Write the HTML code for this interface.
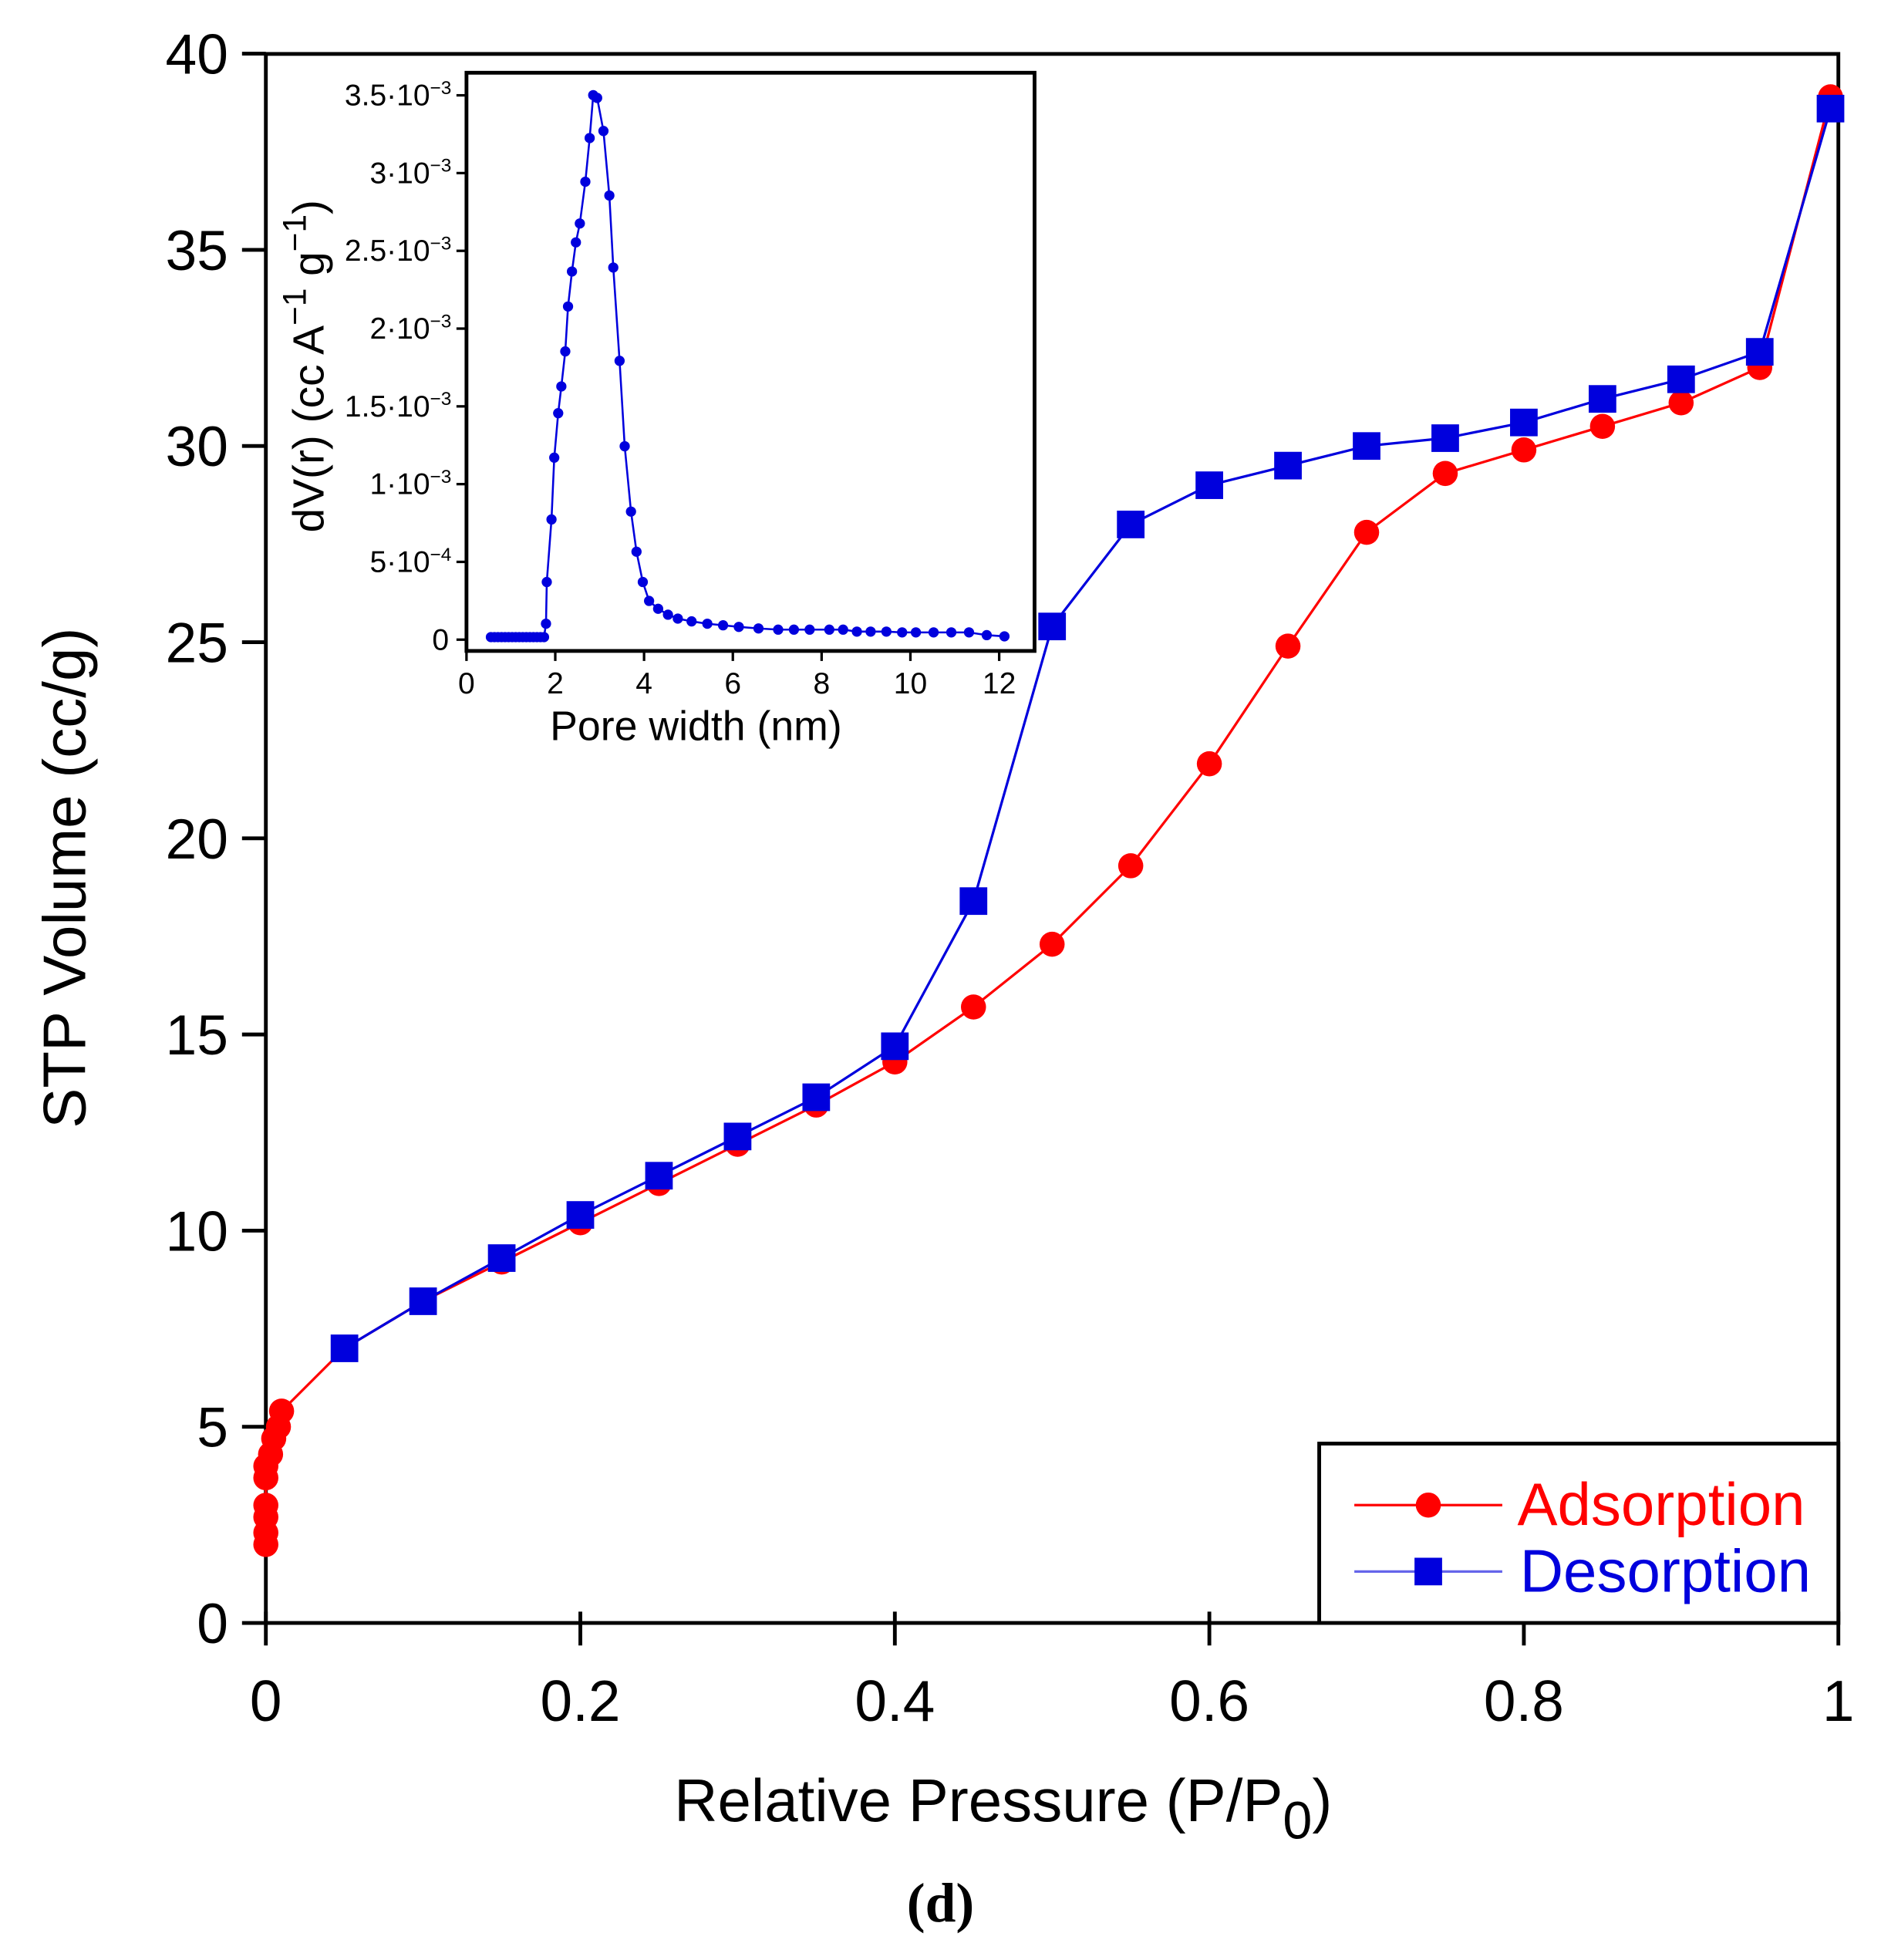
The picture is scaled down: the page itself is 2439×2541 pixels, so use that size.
<!DOCTYPE html>
<html><head><meta charset="utf-8"><style>html,body{margin:0;padding:0;background:#fff}svg{display:block}</style></head>
<body>
<svg id="s" xmlns="http://www.w3.org/2000/svg" width="2439" height="2541" viewBox="0 0 2439 2541">
<rect width="2439" height="2541" fill="#fff"/>
<g transform="scale(1.626)" font-family="Liberation Sans, sans-serif">
<rect x="212" y="43" width="1254" height="1251" fill="none" stroke="#000" stroke-width="3"/>
<g stroke="#000" stroke-width="3" id="mt"></g>
<g font-size="45" text-anchor="end" id="ml"></g>
<g font-size="46" text-anchor="middle" id="xl"></g>
<text x="68" y="700" font-size="48" text-anchor="middle" transform="rotate(-90 68 700)">STP Volume (cc/g)</text>
<text x="800" y="1452" font-size="48" text-anchor="middle">Relative Pressure (P/P<tspan font-size="42" dy="14">0</tspan><tspan dy="-14">)</tspan></text>
<text x="750" y="1532" font-size="44" font-weight="bold" text-anchor="middle" font-family="Liberation Serif, serif">(d)</text>
<g id="data"></g>
<rect x="1052" y="1151" width="414" height="143" fill="#fff" stroke="#000" stroke-width="3"/>
<line x1="1080" y1="1200" x2="1198" y2="1200" stroke="#f00" stroke-width="2"/>
<circle cx="1139" cy="1200" r="10" fill="#f00"/>
<text x="1210" y="1216" font-size="48" fill="#f00">Adsorption</text>
<line x1="1080" y1="1253" x2="1198" y2="1253" stroke="#00d" stroke-width="2" opacity="0.6"/>
<rect x="1128" y="1242" width="22" height="22" fill="#00d"/>
<text x="1212" y="1269" font-size="48" fill="#00d">Desorption</text>
<rect x="372" y="58" width="453" height="461" fill="#fff" stroke="#000" stroke-width="3"/>
<g id="it" stroke="#000" stroke-width="2"></g>
<g font-size="24" text-anchor="end" id="il"></g>
<g font-size="24" text-anchor="middle" id="ixl"></g>
<text x="555" y="590" font-size="33" text-anchor="middle">Pore width (nm)</text>
<text x="258" y="292" font-size="35" text-anchor="middle" transform="rotate(-90 258 292)">dV(r) (cc A<tspan font-size="26" dy="-14">−1</tspan><tspan dy="14"> g</tspan><tspan font-size="26" dy="-14">−1</tspan><tspan dy="14">)</tspan></text>
<g id="idata" transform="translate(344.4,49.2) scale(0.3138)"></g>
</g>
</svg>
<script>
const NS="http://www.w3.org/2000/svg";
function el(p,t,a,txt){const e=document.createElementNS(NS,t);for(const k in a)e.setAttribute(k,a[k]);if(txt!==undefined)e.innerHTML=txt;document.getElementById(p).appendChild(e);return e;}
const X=v=>212+v*1254, Y=v=>1294-v*31.28;
for(let i=0;i<=8;i++){const y=Y(i*5);el('mt','line',{x1:193,y1:y,x2:212,y2:y});el('ml','text',{x:182,y:y+16},String(i*5));}
for(let i=0;i<=5;i++){const x=X(i*0.2);el('mt','line',{x1:x,y1:1285,x2:x,y2:1312});el('xl','text',{x:x,y:1372},i==0?'0':i==5?'1':(i*0.2).toFixed(1));}
const ad=[[0,2.0],[0,2.3],[0,2.7],[0,3.0],[0,3.7],[0,4.0],[0.003,4.3],[0.005,4.7],[0.008,5.0],[0.01,5.4],[0.05,7.0],[0.1,8.2],[0.15,9.2],[0.2,10.2],[0.25,11.2],[0.3,12.2],[0.35,13.2],[0.4,14.3],[0.45,15.7],[0.5,17.3],[0.55,19.3],[0.6,21.9],[0.65,24.9],[0.7,27.8],[0.75,29.3],[0.8,29.9],[0.85,30.5],[0.9,31.1],[0.95,32.0],[0.995,38.9]];
const de=[[0.995,38.6],[0.95,32.4],[0.9,31.7],[0.85,31.2],[0.8,30.6],[0.75,30.2],[0.7,30.0],[0.65,29.5],[0.6,29.0],[0.55,28.0],[0.5,25.4],[0.45,18.4],[0.4,14.7],[0.35,13.4],[0.3,12.4],[0.25,11.4],[0.2,10.4],[0.15,9.3],[0.1,8.2],[0.05,7.0]];
el('data','polyline',{points:ad.map(p=>X(p[0])+','+Y(p[1])).join(' '),fill:'none',stroke:'#f00','stroke-width':2});
el('data','polyline',{points:de.map(p=>X(p[0])+','+Y(p[1])).join(' '),fill:'none',stroke:'#00d','stroke-width':2});
ad.forEach(p=>el('data','circle',{cx:X(p[0]),cy:Y(p[1]),r:10,fill:'#f00'}));
de.forEach(p=>el('data','rect',{x:X(p[0])-11,y:Y(p[1])-11,width:22,height:22,fill:'#00d'}));
const sup=e=>"<tspan font-size='15' dy='-9'>"+e+"</tspan>";
const iy=["0","5·10"+sup("−4"),"1·10"+sup("−3"),"1.5·10"+sup("−3"),"2·10"+sup("−3"),"2.5·10"+sup("−3"),"3·10"+sup("−3"),"3.5·10"+sup("−3")];
for(let i=0;i<8;i++){const y=510-i*62;el('it','line',{x1:364,y1:y,x2:372,y2:y});el('il','text',{x:i==0?358:360,y:y+8},iy[i]);}
for(let i=0;i<=6;i++){const x=372+i*70.8;el('it','line',{x1:x,y1:519,x2:x,y2:527});el('ixl','text',{x:x,y:553},String(i*2));}
let pts=[];for(let x=150;x<=285;x+=9)pts.push([x,1462]);
pts=pts.concat([[290,1428],[292,1322],[304,1163],[311,1006],[321,893],[329,825],[339,736],[346,622],[356,533],[366,459],[376,411],[390,305],[401,194],[410,85],[420,92],[436,176],[451,340],[461,523],[477,760],[490,977],[506,1143],[520,1245],[536,1322],[552,1370],[575,1390],[600,1405],[625,1415],[660,1422],[700,1428],[740,1432],[780,1436],[830,1440],[880,1443],[920,1443],[960,1443],[1010,1443],[1045,1443],[1080,1448],[1115,1448],[1155,1448],[1195,1450],[1230,1450],[1275,1450],[1320,1450],[1365,1450],[1410,1457],[1455,1460]]);
el('idata','polyline',{points:pts.map(p=>p.join(',')).join(' '),fill:'none',stroke:'#00d','stroke-width':5});
pts.forEach(p=>el('idata','circle',{cx:p[0],cy:p[1],r:13,fill:'#00d'}));
</script>
</body></html>
